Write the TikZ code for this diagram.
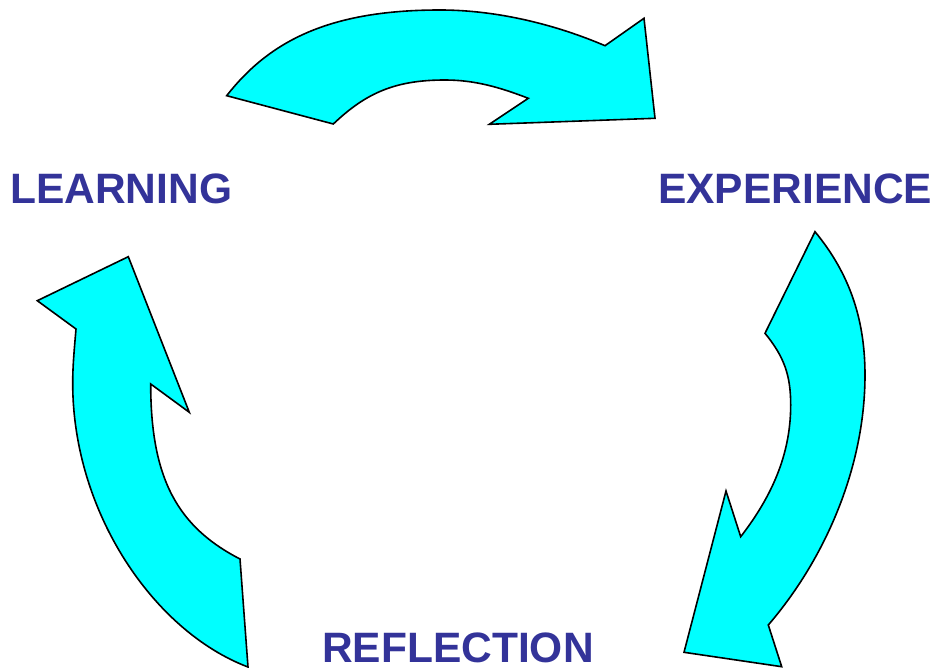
\documentclass[tikz,border=0pt]{standalone}
\usepackage{fontspec}
\setmainfont{Liberation Sans}
\definecolor{arrowfill}{HTML}{00FFFF}
\definecolor{labelblue}{HTML}{333399}
\begin{document}
\begin{tikzpicture}[x=1pt,y=-1pt,
  cyclearrow/.style={fill=arrowfill,draw=black,line width=1.6pt,line join=miter},
  cyclelabel/.style={anchor=base west,inner sep=0pt,text=labelblue,font=\fontsize{42.5}{50}\selectfont\bfseries}]
\useasboundingbox (0,0) rectangle (935,668);
% top arrow
\draw[cyclearrow] (226.7,95.7) .. controls (269.8,40.5) and (330,10) .. (440,10)
  .. controls (500,10) and (559,26) .. (605,45.7)
  -- (644,18.3) -- (655,118.3) -- (489.3,124.3) -- (528.3,98.3)
  .. controls (500.3,87.5) and (475,80) .. (445,80)
  .. controls (395,80) and (365.9,93) .. (333.3,124)
  -- cycle;
% right arrow
\draw[cyclearrow] (815,231.7) .. controls (850,274.1) and (865,320) .. (865,375)
  .. controls (865,465) and (826.9,556.7) .. (768.3,625)
  -- (781.7,666.7) -- (684,652.3) -- (726,491) -- (740.7,536.7)
  .. controls (771.3,497.1) and (790.7,455) .. (790.7,405)
  .. controls (790.7,375) and (784,356.6) .. (765,333.3)
  -- cycle;
% left arrow
\draw[cyclearrow] (248,667) .. controls (154.5,631.7) and (72.7,513) .. (72.7,383)
  .. controls (72.7,365) and (74.5,347) .. (76,329)
  -- (37.3,300.7) -- (128.3,256.7) -- (189.3,412.3) -- (150.7,384)
  .. controls (150.7,479) and (177.8,526.9) .. (240,559)
  -- cycle;
\node[cyclelabel] (learning) at (10,204) {LEARNING};
\node[cyclelabel] (experience) at (658,204) {EXPERIENCE};
\node[cyclelabel] (reflection) at (322,662) {REFLECTION};
\end{tikzpicture}
\end{document}
